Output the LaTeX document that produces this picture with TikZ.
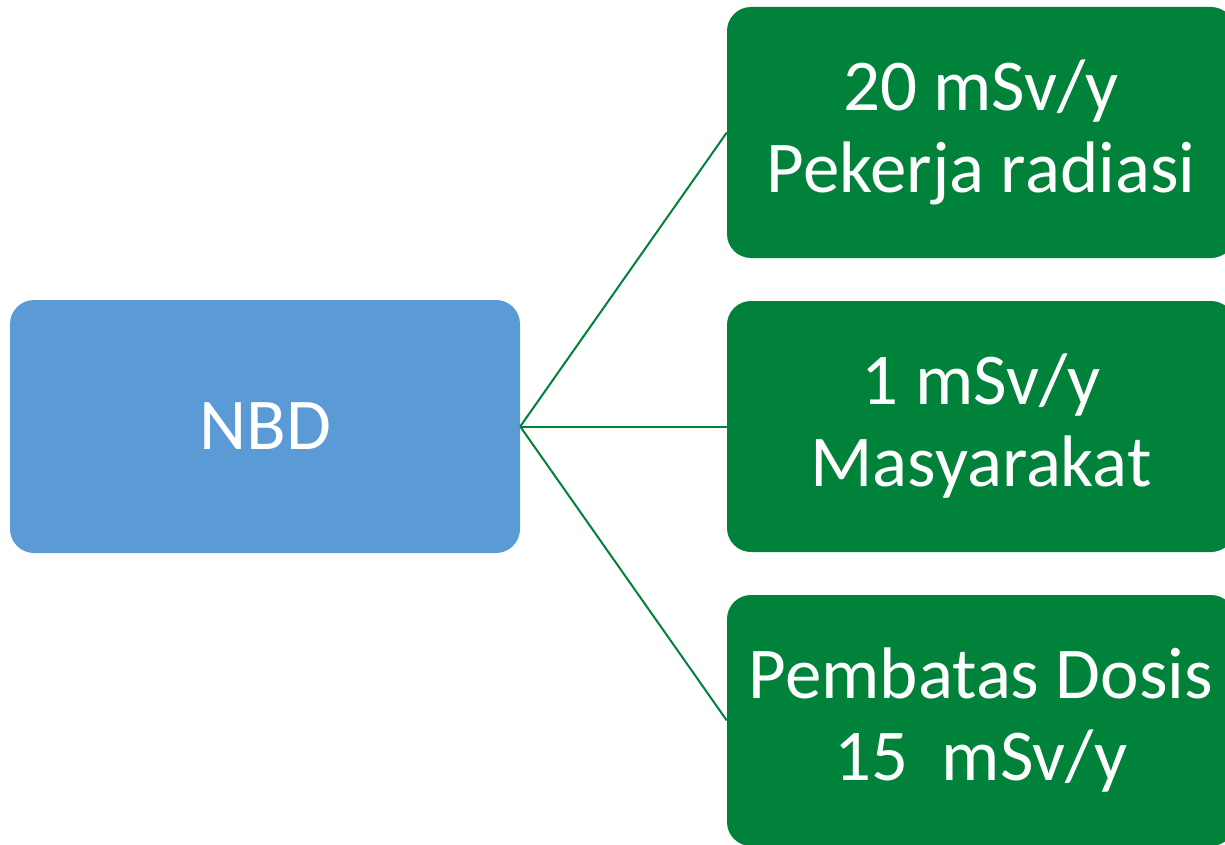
\documentclass[tikz,border=0pt]{standalone}
\usepackage{fontspec}
\setmainfont{Carlito}
\definecolor{nbdblue}{RGB}{91,155,213}
\definecolor{nbdgreen}{RGB}{0,130,59}
\begin{document}
\begin{tikzpicture}[x=1pt,y=-1pt,
  boxtext/.style={text=white, align=center, inner sep=0pt, font=\fontsize{73}{82}\selectfont},
  parentbox/.style={boxtext, fill=nbdblue, rounded corners=24pt, minimum width=510pt, minimum height=253pt},
  childbox/.style={boxtext, fill=nbdgreen, rounded corners=24pt, minimum width=508pt, minimum height=251pt},
  link/.style={draw=nbdgreen, line width=2pt}]
\useasboundingbox (0,0) rectangle (1225,845);
\clip (0,0) rectangle (1225,845);
% root node
\node[parentbox] (nbd) at (265,426.5) {NBD};
% dose limit nodes
\node[childbox] (c1) at (981,132.5) {20 mSv/y\\Pekerja radiasi};
\node[childbox] (c2) at (981,426.5) {1 mSv/y\\Masyarakat};
\node[childbox] (c3) at (981,720.5) {Pembatas Dosis\\15\ \ mSv/y};
% connectors
\draw[link] (nbd.east) -- (c1.west);
\draw[link] (nbd.east) -- (c2.west);
\draw[link] (nbd.east) -- (c3.west);
\end{tikzpicture}
\end{document}
